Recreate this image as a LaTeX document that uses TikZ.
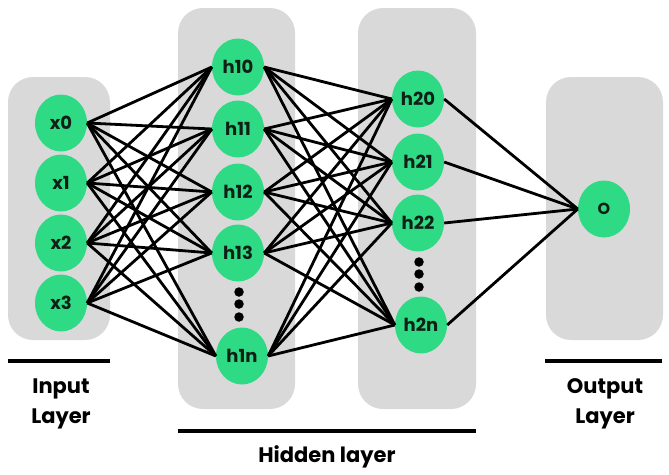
\documentclass[tikz,border=0pt]{standalone}
\usepackage{fontspec}
\setmainfont{Poppins}
\usetikzlibrary{shapes.geometric}
\definecolor{nodegreen}{RGB}{47,218,132}
\definecolor{boxgray}{RGB}{217,217,217}
\definecolor{labeltext}{RGB}{16,32,22}
\tikzset{
  neuron/.style={ellipse, fill=nodegreen, draw=none, minimum width=52pt, minimum height=57pt, inner sep=0pt,
    font=\fontsize{18}{18}\selectfont\bfseries, text=labeltext},
  layerbox/.style={fill=boxgray, draw=none, rounded corners=25pt},
  edge/.style={draw=black, line width=2.8pt},
  rule/.style={draw=black, line width=4pt},
  caption/.style={anchor=base, font=\fontsize{21}{21}\selectfont\bfseries, text=black, inner sep=0pt},
  dot/.style={circle, fill=black, minimum size=9.5pt, inner sep=0pt}
}
\begin{document}
\begin{tikzpicture}[x=1pt,y=-1pt]
\useasboundingbox (0,0) rectangle (669,474);
% layer boxes
\fill[layerbox] (8,77) rectangle (110,340);
\fill[layerbox] (178,8) rectangle (295,409);
\fill[layerbox] (358,8) rectangle (476,409);
\fill[layerbox] (546,77) rectangle (663,340);
% input nodes
\node[neuron] (x0) at (61,123) {x0};
\node[neuron] (x1) at (61,183) {x1};
\node[neuron] (x2) at (61,243) {x2};
\node[neuron] (x3) at (61,303) {x3};
% hidden 1
\node[neuron] (h10) at (238,67) {h10};
\node[neuron] (h11) at (238,129) {h11};
\node[neuron] (h12) at (238,192) {h12};
\node[neuron] (h13) at (238,253) {h13};
\node[neuron] (h1n) at (242,356) {h1n};
\node[dot] (d11) at (239,292) {};
\node[dot] (d12) at (239,304) {};
\node[dot] (d13) at (239,317) {};
% hidden 2
\node[neuron] (h20) at (418,99) {h20};
\node[neuron] (h21) at (418,162) {h21};
\node[neuron] (h22) at (418,223) {h22};
\node[neuron] (h2n) at (421,325) {h2n};
\node[dot] (d21) at (419,262) {};
\node[dot] (d22) at (419,274) {};
\node[dot] (d23) at (419,287) {};
% output
\node[neuron, font=\fontsize{16}{16}\selectfont\bfseries] (o) at (604,209) {O};
% edges
\foreach \a in {x0,x1,x2,x3}{
  \foreach \b in {h10,h11,h12,h13,h1n}{
    \draw[edge] (\a.east) -- (\b.west);
  }
}
\foreach \a in {h10,h11,h12,h13,h1n}{
  \foreach \b in {h20,h21,h22,h2n}{
    \draw[edge] (\a.east) -- (\b.west);
  }
}
\foreach \a in {h20,h21,h22,h2n}{
  \draw[edge] (\a.east) -- (o.west);
}
% rules
\coordinate (il) at (8,361); \coordinate (ir) at (110,361);
\coordinate (hl) at (178,431); \coordinate (hr) at (476,431);
\coordinate (ol) at (545,361); \coordinate (or) at (662,361);
\draw[rule] (il) -- (ir);
\draw[rule] (hl) -- (hr);
\draw[rule] (ol) -- (or);
% captions
\node[caption] (inp1) at (61,393) {Input};
\node[caption] (inp2) at (61,423) {Layer};
\node[caption] (hid) at (327,462) {Hidden layer};
\node[caption] (out1) at (605,393) {Output};
\node[caption] (out2) at (605,423) {Layer};
\end{tikzpicture}
\end{document}
